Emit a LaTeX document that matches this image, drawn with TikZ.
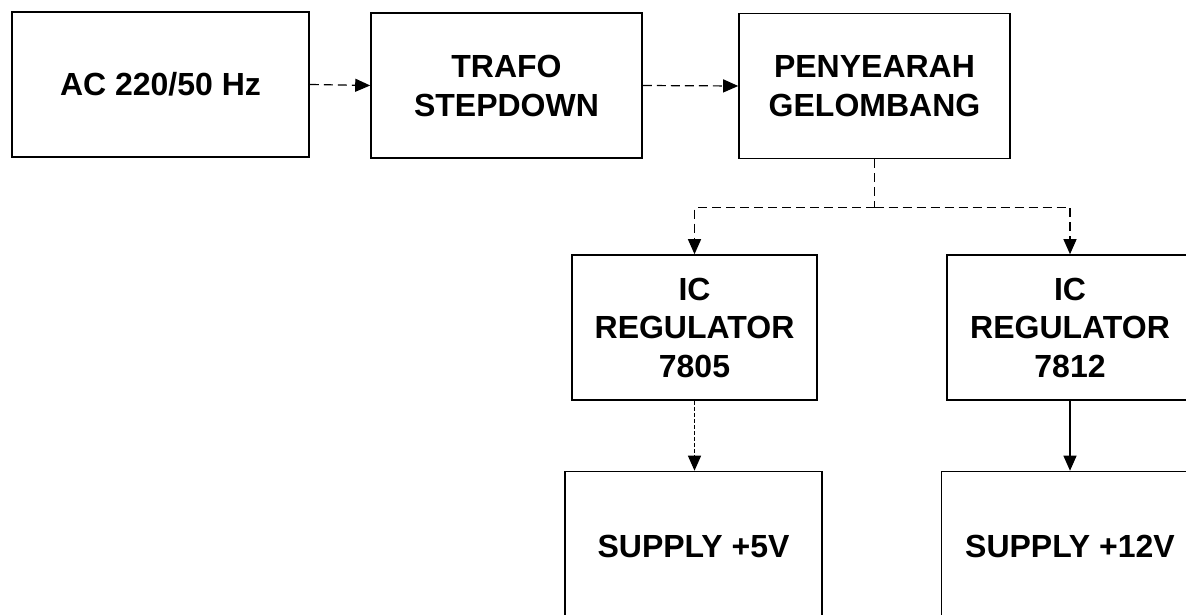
\documentclass[tikz,border=0pt]{standalone}
\usepackage{fontspec}
\setmainfont{Liberation Sans}
\usetikzlibrary{arrows.meta}
\begin{document}
\begin{tikzpicture}[x=1pt,y=-1pt,
  blockbox/.style={draw=black, line width=1.6pt, rectangle, align=center, inner sep=0pt,
    font=\fontsize{32}{39}\selectfont\bfseries, text=black},
  conn/.style={draw=black, line width=1.2pt, -{Triangle[length=15pt,width=13pt]}},
  brokenline/.style={dash pattern=on 9pt off 5pt},
  fineline/.style={draw=black, line width=1.2pt}]
\useasboundingbox (0,0) rectangle (1186,615);
\fill[white] (0,0) rectangle (1186,615);
\node[blockbox, minimum width=297pt, minimum height=145pt] (ac) at (160.5,84.5) {AC 220/50 Hz};
\node[blockbox, minimum width=271pt, minimum height=145pt] (trafo) at (506.5,85.5) {TRAFO\\STEPDOWN};
\node[blockbox, minimum width=271pt, minimum height=145pt] (peny) at (874.5,86) {PENYEARAH\\GELOMBANG};
\node[blockbox, minimum width=245pt, minimum height=145pt, font=\fontsize{32}{38.5}\selectfont\bfseries] (ic5) at (694.5,327.5) {IC\\REGULATOR\\7805};
\node[blockbox, minimum width=246pt, minimum height=145pt, font=\fontsize{32}{38.5}\selectfont\bfseries] (ic12) at (1070,327.5) {IC\\REGULATOR\\7812};
\node[blockbox, minimum width=257pt, minimum height=150pt] (s5) at (693.5,546.5) {SUPPLY +5V};
\node[blockbox, minimum width=257pt, minimum height=150pt] (s12) at (1070,546.5) {SUPPLY +12V};
\coordinate (split) at (874.5,207.5);
\draw[conn, brokenline] (ac.east) -- (trafo.west);
\draw[conn, brokenline] (trafo.east) -- (peny.west);
\draw[fineline, brokenline] (peny.south) -- (split);
\draw[conn, brokenline] (split) -| (ic5.north);
\draw[conn, brokenline] (split) -| (ic12.north);
\draw[conn, dash pattern=on 4pt off 2pt] (ic5.south) -- (ic5.south |- s5.north);
\draw[conn] (ic12.south) -- (s12.north);
\end{tikzpicture}
\end{document}
